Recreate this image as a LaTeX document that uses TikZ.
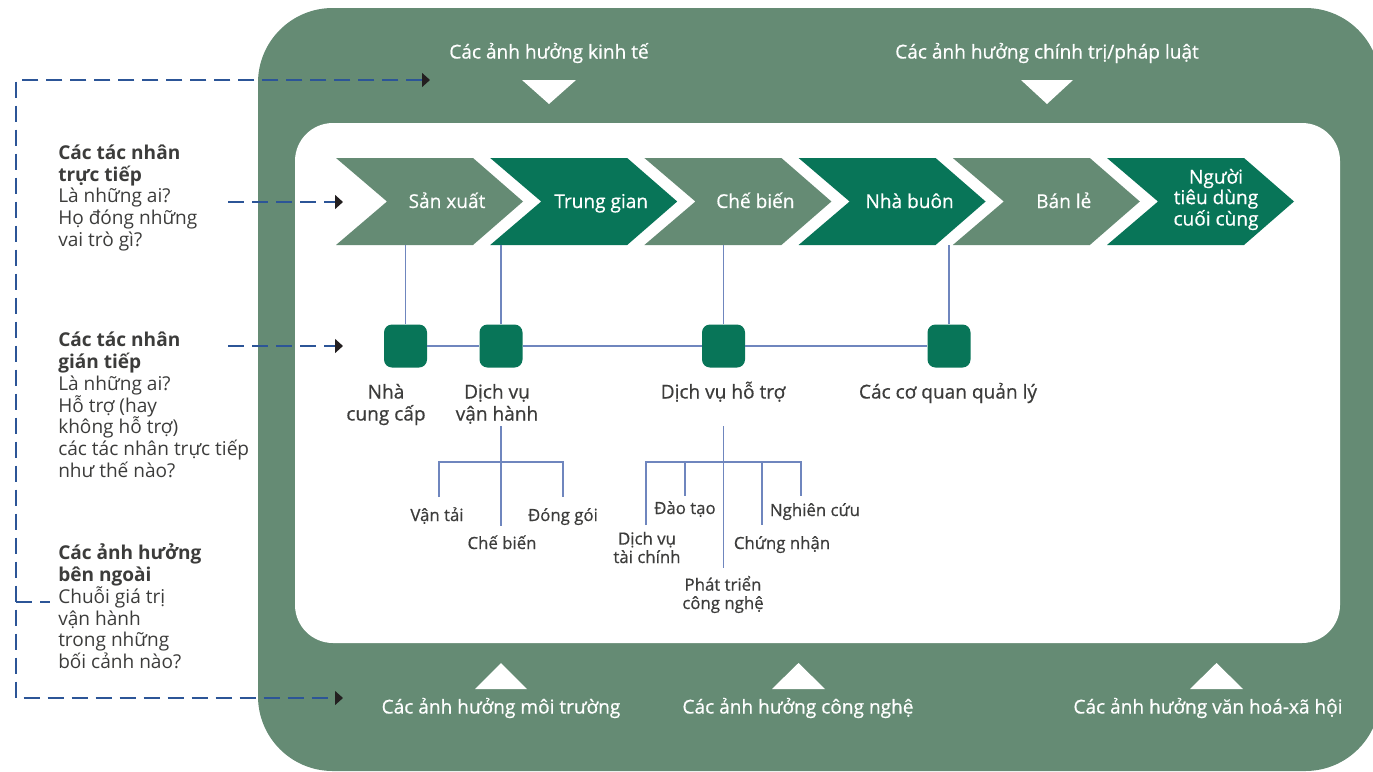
\documentclass[tikz,border=0pt]{standalone}
\usepackage{fontspec}
\setmainfont{Open Sans}
\newfontfamily\medfont[FakeBold=0.6]{Open Sans}
\usetikzlibrary{arrows.meta}
\definecolor{bandgreen}{HTML}{658B74}
\definecolor{darkgreen}{HTML}{087558}
\definecolor{txt}{HTML}{3C3C3B}
\definecolor{linkblue}{HTML}{6F86BE}
\definecolor{dashblue}{HTML}{2C5597}
\definecolor{tipblack}{HTML}{231F20}
\begin{document}
\begin{tikzpicture}[x=0.75pt,y=-0.75pt,
  dashline/.style={draw=dashblue, line width=1.1pt, dash pattern=on 12pt off 6pt},
  tipped/.style={-{Triangle[length=6pt,width=10.5pt,color=tipblack]}},
  link/.style={draw=linkblue, line width=1.1pt},
  lefttext/.style={anchor=base west, align=left, inner sep=0pt, text=txt, font=\fontsize{14.3}{16.3}\selectfont},
  chevlabel/.style={anchor=base, align=center, inner sep=0pt, text=white, font=\medfont\fontsize{14.3}{13.5}\selectfont},
  bandlabel/.style={anchor=base, inner sep=0pt, text=white, font=\medfont\fontsize{14.3}{17}\selectfont},
  sqlabel/.style={anchor=base, align=center, inner sep=0pt, text=txt, font=\medfont\fontsize{14.3}{16.5}\selectfont},
  treelabel/.style={anchor=base, align=center, inner sep=0pt, text=txt, font=\medfont\fontsize{12.6}{13.8}\selectfont},
  sq/.style={fill=darkgreen, rounded corners=6pt, minimum width=32.25pt, minimum height=32.25pt, inner sep=0pt},
  tri/.style={fill=white}]
\useasboundingbox (0,0) rectangle (1373,771);
% outer band and inner panel
\fill[bandgreen, rounded corners=56pt] (258,8) rectangle (1380,771);
\fill[white, rounded corners=28.5pt] (295,123) rectangle (1340,643);
% band labels and triangles
\node[bandlabel] (econ) at (549,58.5) {Các ảnh hưởng kinh tế};
\node[bandlabel] (pol) at (1047,58.5) {Các ảnh hưởng chính trị/pháp luật};
\fill[tri] (522,80) -- (576,80) -- (549,104) -- cycle;
\fill[tri] (1021,80) -- (1073,80) -- (1047,104) -- cycle;
\node[bandlabel] (env) at (501,713.5) {Các ảnh hưởng môi trường};
\node[bandlabel] (tech) at (798,713.5) {Các ảnh hưởng công nghệ};
\node[bandlabel] (soc) at (1208,713.5) {Các ảnh hưởng văn hoá-xã hội};
\fill[tri] (475,689) -- (527,689) -- (501,663) -- cycle;
\fill[tri] (772,689) -- (825,689) -- (798.5,663) -- cycle;
\fill[tri] (1190,689) -- (1243,689) -- (1216.5,663) -- cycle;
% chevrons
\foreach \L/\col/\lab [count=\i] in {336/bandgreen/{Sản xuất}, 490.2/darkgreen/{Trung gian}, 644.4/bandgreen/{Chế biến}, 798.6/darkgreen/{Nhà buôn}, 952.8/bandgreen/{Bán lẻ}} {
  \fill[\col] (\L,158) -- ++(137,0) -- ++(50,43.5) -- ++(-50,43.5) -- ++(-137,0) -- ++(51,-43.5) -- cycle;
  \node[chevlabel] (c\i) at (\L+111,208) {\lab};
}
\fill[darkgreen] (1107,158) -- ++(137,0) -- ++(50,43.5) -- ++(-50,43.5) -- ++(-137,0) -- ++(51,-43.5) -- cycle;
\node[chevlabel] (c6) at (1216,225.5) {Người\\tiêu dùng\\cuối cùng};
% chevron bottoms
\coordinate (b1) at (405.5,245);
\coordinate (b2) at (501,245);
\coordinate (b3) at (723.5,245);
\coordinate (b4) at (949,245);
% indirect actor squares
\node[sq] (s1) at (405.5,346) {};
\node[sq] (s2) at (501,346) {};
\node[sq] (s3) at (723.5,346) {};
\node[sq] (s4) at (949,346) {};
\draw[link] (s1) -- (s2) -- (s3) -- (s4);
\draw[link] (b1) -- (s1.north);
\draw[link] (b2) -- (s2.north);
\draw[link] (b3) -- (s3.north);
\draw[link] (b4) -- (s4.north);
\node[sqlabel] (l1) at (386,420.5) {Nhà\\cung cấp};
\node[sqlabel] (l2) at (497,420.5) {Dịch vụ\\vận hành};
\node[sqlabel] (l3) at (723,398.5) {Dịch vụ hỗ trợ};
\node[sqlabel] (l4) at (948,398.5) {Các cơ quan quản lý};
% tree 1
\coordinate (a0) at (501,426);
\coordinate (a1) at (501,526);
\coordinate (aL) at (439,462);
\coordinate (aR) at (563,462);
\coordinate (aLe) at (439,497);
\coordinate (aRe) at (563,497);
\draw[link] (a0) -- (a1);
\draw[link] (aLe) -- (aL) -- (aR) -- (aRe);
\node[treelabel] (t1) at (437,521) {Vận tải};
\node[treelabel] (t2) at (502,549) {Chế biến};
\node[treelabel] (t3) at (563,521) {Đóng gói};
% tree 2
\coordinate (q0) at (723.5,426);
\coordinate (q1) at (723.5,568);
\coordinate (qA) at (646,462);
\coordinate (qB) at (685,462);
\coordinate (qD) at (762,462);
\coordinate (qE) at (801,462);
\coordinate (qAe) at (646,525);
\coordinate (qBe) at (685,496);
\coordinate (qDe) at (762,525);
\coordinate (qEe) at (801,496);
\draw[link] (q0) -- (q1);
\draw[link] (qAe) -- (qA) -- (qE) -- (qEe);
\draw[link] (qB) -- (qBe);
\draw[link] (qD) -- (qDe);
\node[treelabel] (u1) at (647,563) {Dịch vụ\\tài chính};
\node[treelabel] (u2) at (685,514) {Đào tạo};
\node[treelabel] (u3) at (723,609) {Phát triển\\công nghệ};
\node[treelabel] (u4) at (782,549) {Chứng nhận};
\node[treelabel] (u5) at (815,516) {Nghiên cứu};
% left texts
\node[lefttext] (h1) at (58,246.3) {\textbf{Các tác nhân}\\\textbf{trực tiếp}\\Là những ai?\\Họ đóng những\\vai trò gì?};
\node[lefttext] (h2) at (58,477.2) {\textbf{Các tác nhân}\\\textbf{gián tiếp}\\Là những ai?\\Hỗ trợ (hay\\không hỗ trợ)\\các tác nhân trực tiếp\\như thế nào?};
\node[lefttext] (h3) at (58,668.5) {\textbf{Các ảnh hưởng}\\\textbf{bên ngoài}\\Chuỗi giá trị\\vận hành\\trong những\\bối cảnh nào?};
% dashed pointers
\coordinate (e1) at (430,80);
\coordinate (kb) at (16,698);
\coordinate (e4) at (343,698);
\coordinate (k3) at (16,602);
\coordinate (k4) at (50,602);
\coordinate (d1) at (228,202);
\coordinate (d1e) at (343,202);
\coordinate (d2) at (228,346);
\coordinate (d2e) at (343,346);
\draw[dashline, {Triangle[length=6pt,width=10.5pt,color=tipblack]}-{Triangle[length=6pt,width=10.5pt,color=tipblack]}] (e1) -| (kb) -- (e4);
\draw[dashline] (k3) -- (k4);
\draw[dashline, tipped] (d1) -- (d1e);
\draw[dashline, tipped] (d2) -- (d2e);
\end{tikzpicture}
\end{document}
